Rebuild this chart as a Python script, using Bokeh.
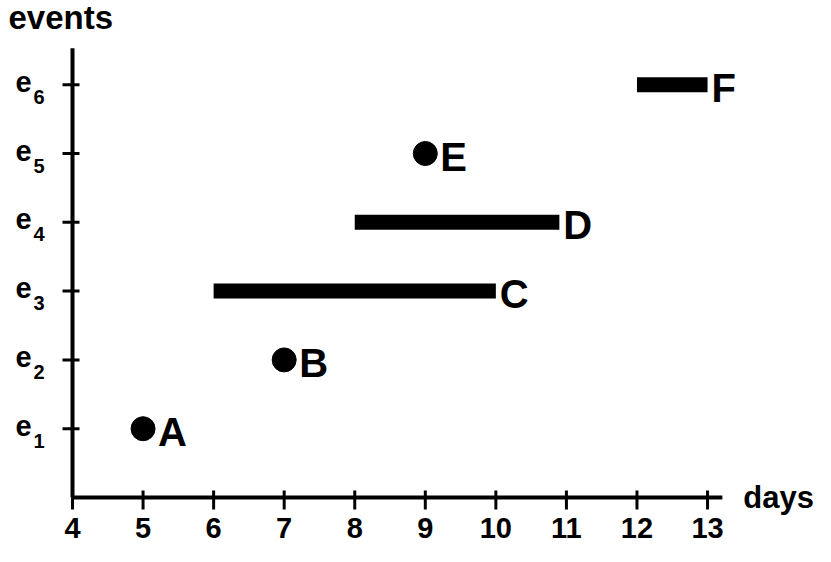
import math
from bokeh.plotting import figure
from bokeh.models import Range1d
from bokeh.core.properties import value
from bokeh.embed import file_html
from bokeh.resources import INLINE

# ---- data ----
names = ["A", "B", "C", "D", "E", "F"]
starts = [5, 7, 6, 8, 9, 12]
ends = [5, 7, 10, 10.9, 9, 13]
levels = [1, 2, 3, 4, 5, 6]
x_ticks = [4, 5, 6, 7, 8, 9, 10, 11, 12, 13]
x_tick_labels = ["4", "5", "6", "7", "8", "9", "10", "11", "12", "13"]
y_ticks = [1, 2, 3, 4, 5, 6]
y_tick_base = ["e", "e", "e", "e", "e", "e"]
y_tick_sub = ["1", "2", "3", "4", "5", "6"]
x_title = "days"
y_title = "events"

# ---- layout (pixels) ----
W, H = 815, 546
PX_X = 70.56          # pixels per day
PX_Y = 68.8           # pixels per event level
ORIGIN_X, ORIGIN_Y = 72, 497   # where (4, 0) sits on the canvas
X0 = 4
X_END = 13.21
Y_END = 6.53

xr = Range1d(X0 - ORIGIN_X / PX_X, X0 - ORIGIN_X / PX_X + W / PX_X)
yr = Range1d(-(H - ORIGIN_Y) / PX_Y, ORIGIN_Y / PX_Y)

FONT = value("Liberation Sans")

p = figure(width=W, height=H, x_range=xr, y_range=yr,
           output_backend="svg", toolbar_location=None,
           min_border=0, background_fill_color="white", border_fill_color="white")
p.outline_line_color = None
p.grid.visible = False
p.axis.visible = False

# axes lines
p.segment(x0=[X0, X0], y0=[0, 0], x1=[X_END, X0], y1=[0, Y_END],
          line_width=4, line_color="black", line_cap="butt")
# x ticks
p.ray(x=x_ticks, y=[0] * len(x_ticks), length=12, length_units="screen",
      angle=-math.pi / 2, line_width=3, line_color="black")
p.ray(x=x_ticks, y=[0] * len(x_ticks), length=7, length_units="screen",
      angle=math.pi / 2, line_width=3, line_color="black")
# y ticks
p.ray(x=[X0] * len(y_ticks), y=y_ticks, length=10, length_units="screen",
      angle=math.pi, line_width=3, line_color="black")
p.ray(x=[X0] * len(y_ticks), y=y_ticks, length=7, length_units="screen",
      angle=0, line_width=3, line_color="black")

# x tick labels
p.text(x=x_ticks, y=[0] * len(x_ticks), text=x_tick_labels, y_offset=30,
       text_font=FONT, text_font_style="bold", text_font_size="29px",
       text_color="black", text_align="center", text_baseline="alphabetic")
# y tick labels: e with subscript
p.text(x=[X0] * len(y_ticks), y=y_ticks, text=y_tick_base, x_offset=-57, y_offset=-3,
       text_font=FONT, text_font_style="bold", text_font_size="29px",
       text_color="black", text_align="left", text_baseline="alphabetic")
p.text(x=[X0] * len(y_ticks), y=y_ticks, text=y_tick_sub, x_offset=-39, y_offset=12,
       text_font=FONT, text_font_style="bold", text_font_size="20px",
       text_color="black", text_align="left", text_baseline="alphabetic")

# axis titles
p.text(x=[X0], y=[Y_END], text=[y_title], x_offset=-64, y_offset=-31,
       text_font=FONT, text_font_style="bold", text_font_size="33px",
       text_color="black", text_align="left", text_baseline="alphabetic")
p.text(x=[X_END], y=[0], text=[x_title], x_offset=21, y_offset=0,
       text_font=FONT, text_font_style="bold", text_font_size="31px",
       text_color="black", text_align="left", text_baseline="alphabetic")

# bars and points
is_point = [s == e for s, e in zip(starts, ends)]
bar_idx = [i for i, pt in enumerate(is_point) if not pt]
pt_idx = [i for i, pt in enumerate(is_point) if pt]

p.segment(x0=[starts[i] for i in bar_idx], x1=[ends[i] for i in bar_idx],
          y0=[levels[i] for i in bar_idx], y1=[levels[i] for i in bar_idx],
          line_width=15, line_color="black", line_cap="butt")
p.scatter(x=[starts[i] for i in pt_idx], y=[levels[i] for i in pt_idx],
          size=24, marker="circle", fill_color="black", line_color="black")

p.text(x=ends, y=levels, text=names,
       x_offset=[15 if pt else 4 for pt in is_point], y_offset=3,
       text_font=FONT, text_font_style="bold", text_font_size="40px",
       text_color="black", text_align="left", text_baseline="alphabetic")

open("out.html", "w").write(file_html(p, INLINE))
